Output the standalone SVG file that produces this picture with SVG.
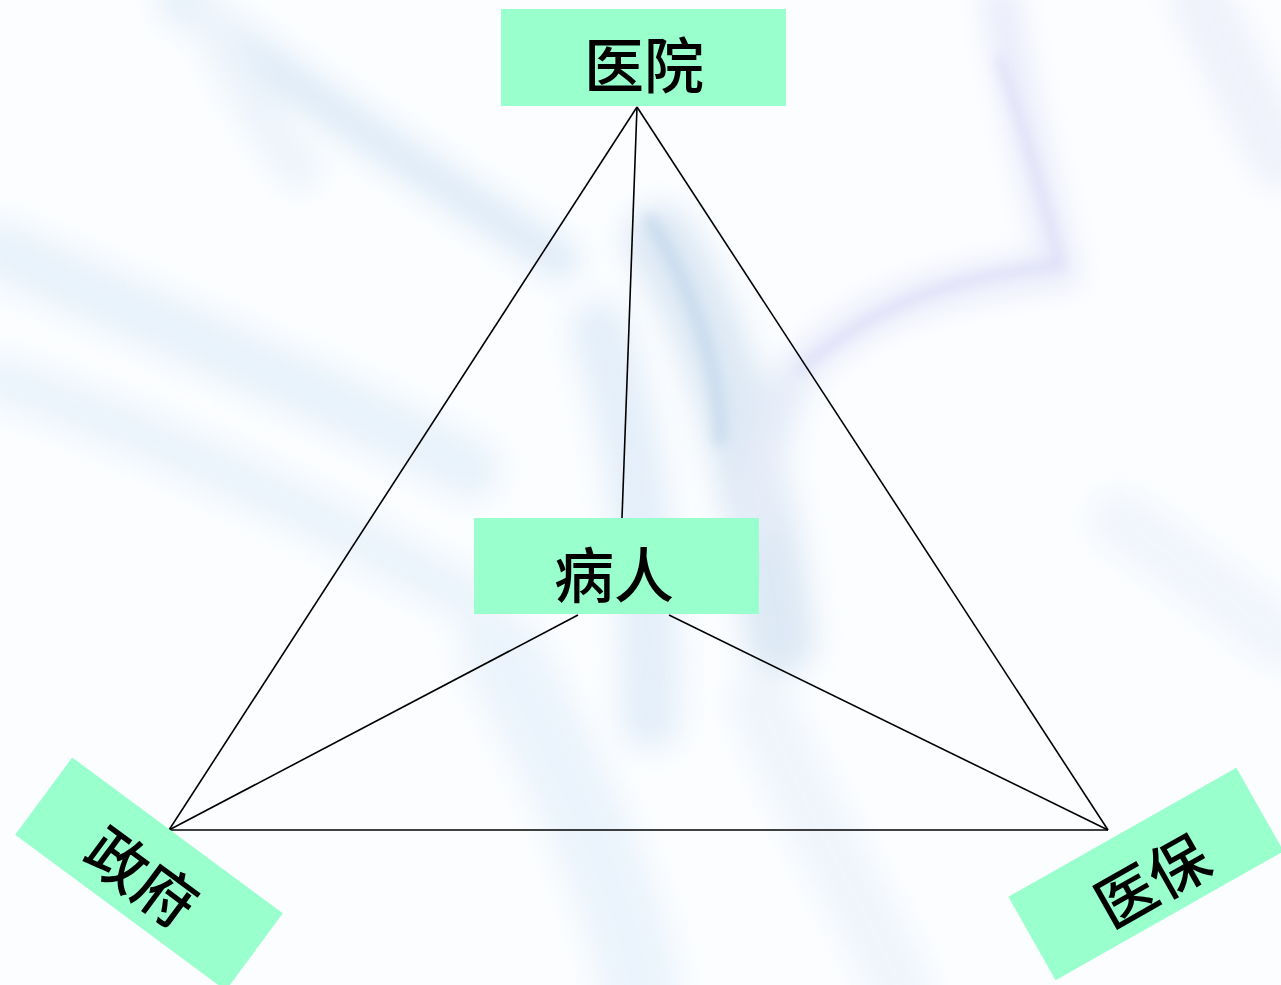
<svg xmlns="http://www.w3.org/2000/svg" width="1281" height="985" viewBox="0 0 1281 985">
<defs>
<style>
.node{fill:#99ffcc;}
.lbl{font-family:"Noto Sans CJK SC","Noto Sans CJK JP",sans-serif;font-size:60px;font-weight:500;fill:#000;text-anchor:middle;dominant-baseline:central;}
.conn line{stroke:#000;stroke-width:1.6;}
.bg{fill:none;stroke-linecap:round;}
</style>
<filter id="blur" x="-20%" y="-20%" width="140%" height="140%"><feGaussianBlur stdDeviation="14"/></filter>
<filter id="blur2" x="-20%" y="-20%" width="140%" height="140%"><feGaussianBlur stdDeviation="6"/></filter>
</defs>
<rect width="1281" height="985" fill="#fbfdff"/>
<g filter="url(#blur)" opacity="0.42">
<path class="bg" d="M180 0 C300 90 420 170 560 260" stroke="#b9d4ee" stroke-width="40"/>
<path class="bg" d="M0 250 C150 320 300 380 470 470" stroke="#cfe3f5" stroke-width="60"/>
<path class="bg" d="M0 380 C150 430 330 520 470 600" stroke="#d5e7f7" stroke-width="50"/>
<path class="bg" d="M660 240 C720 330 760 480 780 640" stroke="#b4cde6" stroke-width="70"/>
<path class="bg" d="M600 330 C640 450 650 560 650 720" stroke="#c6dcf2" stroke-width="60"/>
<path class="bg" d="M1000 0 C1020 120 1050 220 1060 270 C960 280 860 300 790 380" stroke="#d3d3f5" stroke-width="35"/>
<path class="bg" d="M790 380 C770 430 760 470 760 520" stroke="#c9d7f0" stroke-width="40"/>
<path class="bg" d="M200 0 C230 60 260 120 300 170" stroke="#d8e6f5" stroke-width="40"/>
<path class="bg" d="M500 650 C560 760 620 880 640 985" stroke="#d6e7f8" stroke-width="80"/>
<path class="bg" d="M760 700 C800 800 860 900 900 985" stroke="#dfeaf8" stroke-width="60"/>
<path class="bg" d="M1120 520 C1180 560 1230 600 1281 640" stroke="#e4ecf8" stroke-width="60"/>
<path class="bg" d="M1200 0 C1230 60 1260 120 1281 160" stroke="#e0e3f6" stroke-width="60"/>
</g>
<g filter="url(#blur2)" opacity="0.35">
<path class="bg" d="M650 220 C700 300 720 380 720 440" stroke="#a9c4e0" stroke-width="14"/>
<path class="bg" d="M1000 60 C1030 150 1050 220 1060 265 C960 275 880 300 800 370" stroke="#c7c7f0" stroke-width="10"/>
</g>
<g class="conn" id="connectors">
<line x1="637" y1="107" x2="169" y2="830"/>
<line x1="637" y1="107" x2="1108" y2="830"/>
<line x1="637" y1="107" x2="622" y2="518"/>
<line x1="578" y1="615" x2="169" y2="830"/>
<line x1="669" y1="615" x2="1108" y2="830"/>
<line x1="169" y1="830" x2="1108" y2="830"/>
</g>
<g id="hospital">
<rect class="node" x="501" y="9" width="285" height="97"/>
<text class="lbl" x="644" y="61">医院</text>
</g>
<g id="patient">
<rect class="node" x="474" y="518" width="285" height="96"/>
<text class="lbl" x="614" y="571">病人</text>
</g>
<g id="government" transform="translate(149 874) rotate(36.5)">
<rect class="node" x="-131" y="-48" width="262" height="96"/>
<text class="lbl" x="-4" y="3">政府</text>
</g>
<g id="insurance" transform="translate(1146 874) rotate(-29.5)">
<rect class="node" x="-131" y="-48" width="262" height="96"/>
<text class="lbl" x="2" y="5">医保</text>
</g>
</svg>
